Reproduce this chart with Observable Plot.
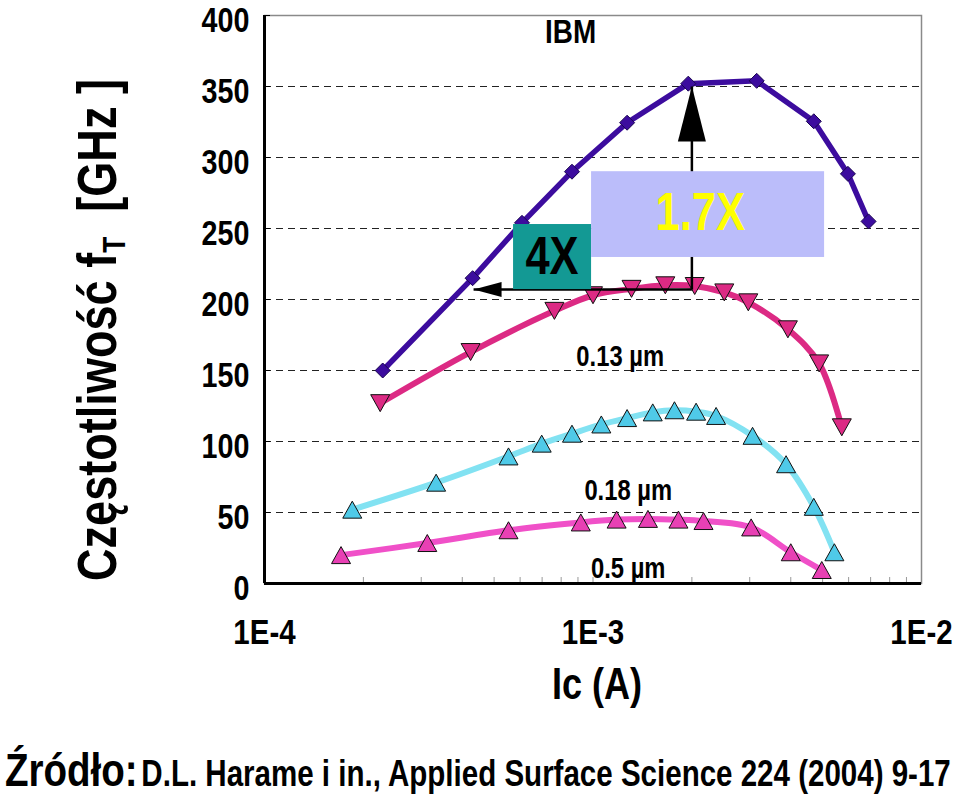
<!DOCTYPE html>
<html>
<head>
<meta charset="utf-8">
<script src="https://cdn.jsdelivr.net/npm/d3@7"></script>
<script src="https://cdn.jsdelivr.net/npm/@observablehq/plot@0.6"></script>
<style>
  html, body { margin: 0; padding: 0; background: #fff; }
  body { width: 960px; height: 796px; position: relative; overflow: hidden; }
  #chart { position: absolute; left: 0; top: 0; }
  #caption { position: absolute; left: 5px; top: 746px; white-space: nowrap; font-family: "Liberation Sans", Arial, sans-serif; font-weight: bold; color: #000; line-height: 1; transform: scaleX(0.82); transform-origin: 0 0; }
  #caption .big { font-size: 47px; }
  #caption .small { font-size: 36px; }
</style>
</head>
<body>
<div id="chart"></div>
<div id="caption"><span class="big">Źródło:</span> <span class="small">D.L. Harame i in., Applied Surface Science 224 (2004) 9-17</span></div>
<script>
// ---- data ----
const icNew = [2.29e-4, 4.30e-4, 6.08e-4, 8.63e-4, 1.27e-3, 1.95e-3, 3.15e-3, 4.70e-3, 5.97e-3, 6.90e-3];
const ftNew = [150, 215, 254, 290, 324.5, 352, 354, 325.5, 288.5, 255];

const ic013 = [2.25e-4, 4.24e-4, 7.63e-4, 1.0e-3, 1.31e-3, 1.66e-3, 2.04e-3, 2.51e-3, 2.97e-3, 3.92e-3, 4.88e-3, 5.72e-3];
const ft013 = [127, 163, 192, 203, 207.5, 210, 209.5, 205, 198, 179, 155, 110];

const ic018 = [1.85e-4, 3.33e-4, 5.53e-4, 6.98e-4, 8.63e-4, 1.06e-3, 1.27e-3, 1.52e-3, 1.77e-3, 2.06e-3, 2.37e-3, 3.06e-3, 3.87e-3, 4.70e-3, 5.43e-3];
const ft018 = [52, 71, 89.5, 98.5, 105.5, 112, 116.5, 120.5, 122, 121, 118, 104, 84, 54, 22];

const ic05 = [1.71e-4, 3.13e-4, 5.53e-4, 9.18e-4, 1.18e-3, 1.47e-3, 1.82e-3, 2.17e-3, 3.03e-3, 4.00e-3, 4.97e-3];
const ft05 = [20, 28.5, 37.5, 43, 45, 45.5, 45, 44, 39.5, 22, 9.5];

const xTicks = [1e-4, 1e-3, 1e-2];
const xMinor = [2e-4,3e-4,4e-4,5e-4,6e-4,7e-4,8e-4,9e-4,1e-3,2e-3,3e-3,4e-3,5e-3,6e-3,7e-3,8e-3,9e-3];
const yTicks = [0, 50, 100, 150, 200, 250, 300, 350, 400];
const yGrid = [50, 100, 150, 200, 250, 300, 350];

// annotation texts and their data positions
const labelText = ["IBM", "0.13 µm", "0.18 µm", "0.5 µm"];
const labelX = [8.55e-4, 1.21e-3, 1.28e-3, 1.28e-3];
const labelY = [388, 160, 65.5, 10.6];

const boxText = ["4X", "1.7X"];
const boxX1 = [5.73e-4, 0.99e-3];
const boxX2 = [0.99e-3, 5.07e-3];
const boxY1 = [207, 229.6];
const boxY2 = [252.8, 290];
const boxTextX = [7.5e-4, 2.12e-3];
const boxTextY = [229.6, 261];

// 1.7X arrow (vertical) and 4X arrow (horizontal)
const arrowV = {x: 2.0e-3, yFrom: 207, yTo: 350};
const arrowH = {y: 207, xFrom: 2.0e-3, xTo: 4.33e-4};

// ---- helpers ----
const pts = (xs, ys) => xs.map((x, i) => ({x, y: ys[i]}));
const sNew = pts(icNew, ftNew), s013 = pts(ic013, ft013), s018 = pts(ic018, ft018), s05 = pts(ic05, ft05);
const labels = labelText.map((t, i) => ({t, x: labelX[i], y: labelY[i]}));
const boxes = boxText.map((t, i) => ({t, x1: boxX1[i], x2: boxX2[i], y1: boxY1[i], y2: boxY2[i], tx: boxTextX[i], ty: boxTextY[i]}));

const diamond = {draw(c) { const r = 7.5; c.moveTo(0, -r); c.lineTo(r, 0); c.lineTo(0, r); c.lineTo(-r, 0); c.closePath(); }};
const triUp = {draw(c) { const w = 9.5, h = 8.5; c.moveTo(0, -h); c.lineTo(w, h); c.lineTo(-w, h); c.closePath(); }};
const triDown = {draw(c) { const w = 9.5, h = 8.5; c.moveTo(0, h); c.lineTo(w, -h); c.lineTo(-w, -h); c.closePath(); }};
const headUp = {draw(c) { c.moveTo(0, 0); c.lineTo(14, 55); c.lineTo(-14, 55); c.closePath(); }};
const headLeft = {draw(c) { c.moveTo(0, 0); c.lineTo(28, -7.5); c.lineTo(28, 7.5); c.closePath(); }};

const FONT = "'Liberation Sans', Arial, sans-serif";
const NARROW = 0.82;
const W = 960, H = 720, ML = 264, MR = 39, MT = 15, MB = 137;
const FW = W - ML - MR, FH = H - MT - MB;

const chart = Plot.plot({
  width: W, height: H,
  marginLeft: ML, marginRight: MR, marginTop: MT, marginBottom: MB,
  style: {fontFamily: FONT, fontWeight: "bold", color: "#000", background: "#fff", overflow: "visible"},
  x: {type: "log", domain: [1e-4, 1e-2], axis: null},
  y: {domain: [0, 400], axis: null},
  marks: [
    Plot.ruleY(yGrid, {stroke: "#222", strokeWidth: 1, strokeDasharray: "7,5"}),
    Plot.frame({stroke: "#8a8a8a", strokeWidth: 1.5}),
    Plot.tickX(xMinor, {x: d => d, stroke: "#999", strokeWidth: 1, insetTop: FH - 6}),
    Plot.tickY(yTicks, {y: d => d, stroke: "#000", strokeWidth: 1, insetRight: FW - 6}),
    Plot.ruleX([1e-4], {stroke: "#000", strokeWidth: 3}),
    Plot.ruleY([0], {stroke: "#000", strokeWidth: 3}),
    Plot.axisX({ticks: xTicks, tickSize: 0, tickPadding: 35, tickFormat: d => "1E" + Math.round(Math.log10(d)), fontSize: 36, label: null}),
    Plot.axisY({ticks: yTicks, tickSize: 0, tickPadding: 15, fontSize: 35, dy: 5.5, label: null}),

    // 0.5 um
    Plot.line(s05, {x: "x", y: "y", stroke: "#f050c8", strokeWidth: 6, curve: "catmull-rom"}),
    Plot.dot(s05, {x: "x", y: "y", symbol: triUp, fill: "#e840b4", stroke: "#111", strokeWidth: 1}),
    // 0.18 um
    Plot.line(s018, {x: "x", y: "y", stroke: "#82e2f2", strokeWidth: 6, curve: "catmull-rom"}),
    Plot.dot(s018, {x: "x", y: "y", symbol: triUp, fill: "#4fcae8", stroke: "#111", strokeWidth: 1}),
    // 0.13 um
    Plot.line(s013, {x: "x", y: "y", stroke: "#dc2a84", strokeWidth: 6, curve: "catmull-rom"}),
    Plot.dot(s013, {x: "x", y: "y", symbol: triDown, fill: "#dc2a84", stroke: "#111", strokeWidth: 1}),
    // new IBM
    Plot.line(sNew, {x: "x", y: "y", stroke: "#3c0c9e", strokeWidth: 5.5, curve: "linear"}),
    Plot.dot(sNew, {x: "x", y: "y", symbol: diamond, fill: "#3c0c9e", stroke: "#1a0650", strokeWidth: 1}),

    // arrows
    Plot.link([arrowV], {x1: "x", x2: "x", y1: "yFrom", y2: "yTo", stroke: "#000", strokeWidth: 2.5}),
    Plot.dot([arrowV], {x: "x", y: "yTo", symbol: headUp, fill: "#000", stroke: "none"}),
    Plot.link([arrowH], {x1: "xFrom", x2: "xTo", y1: "y", y2: "y", stroke: "#000", strokeWidth: 2.5}),
    Plot.dot([arrowH], {x: "xTo", y: "y", symbol: headLeft, fill: "#000", stroke: "none"}),

    // boxes
    Plot.rect(boxes, {x1: "x1", x2: "x2", y1: "y1", y2: "y2", fill: (d, i) => i === 0 ? "#139994" : "#bbbdfa"}),
    Plot.text(boxes, {x: "tx", y: "ty", text: "t", fill: (d, i) => i === 0 ? "#000" : "#ffff00", fontSize: 53, fontWeight: "bold", textAnchor: "middle", lineAnchor: "middle"}),

    // labels
    Plot.text(labels, {x: "x", y: "y", text: "t", fill: "#000", fontSize: (d, i) => i === 0 ? 34 : 29, fontWeight: "bold", textAnchor: "middle", lineAnchor: "middle"}),
    Plot.text(["Ic (A)"], {frameAnchor: "bottom", dx: 4, dy: 101, fontSize: 44, fontWeight: "bold", fill: "#000", lineAnchor: "middle"})
  ]
});

document.getElementById("chart").appendChild(chart);

// y-axis title with subscript T
const svg = d3.select(chart);
const t = svg.append("text")
  .attr("transform", "translate(116,330) rotate(-90)")
  .attr("text-anchor", "middle")
  .attr("font-family", FONT)
  .attr("font-weight", "bold")
  .attr("font-size", 55)
  .attr("fill", "#000")
  .style("white-space", "pre");
t.append("tspan").text("Częstotliwość f");
t.append("tspan").attr("font-size", 32).attr("dy", 9).text("T");
t.append("tspan").attr("dy", -9).text("  [GHz ]");

// condense all texts horizontally about their anchor (narrow bold face look)
chart.querySelectorAll("text").forEach(el => {
  const b = el.getBBox();
  const a = getComputedStyle(el).textAnchor;
  const ax = a === "middle" ? b.x + b.width / 2 : a === "end" ? b.x + b.width : b.x;
  const tr = el.getAttribute("transform") || "";
  el.setAttribute("transform", `${tr} translate(${ax},0) scale(${NARROW},1) translate(${-ax},0)`);
});
</script>
</body>
</html>
